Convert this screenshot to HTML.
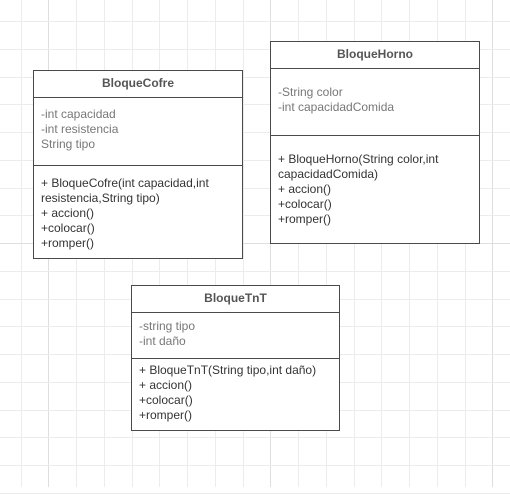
<!DOCTYPE html>
<html><head><meta charset="utf-8"><style>
body{margin:0;width:510px;height:487px;overflow:hidden;background:#fff;font-family:"Liberation Sans",Arial,sans-serif;position:relative}
.g{position:absolute;background:#ececec}
.box{position:absolute;border:1.5px solid #4a4a4a;background:#fff;box-sizing:border-box;font-size:12px;line-height:15px}
.h{font-weight:bold;color:#555;text-align:center;border-bottom:1.5px solid #4a4a4a;box-sizing:border-box}
.a{color:#777;padding:0 7px;border-bottom:1.5px solid #4a4a4a;box-sizing:border-box}
.m{color:#333;padding:0 7px}
</style></head><body>
<div id="grid"></div>
<script>
var s='';
for(var i=0;i<19;i++){var x=20.5+i*27.75;s+='<div class="g" style="left:'+x.toFixed(1)+'px;top:0;width:1px;height:487px'+((i==1||i==9||i==17)?';background:#dedede':'')+'"></div>';}
for(var j=0;j<18;j++){var y=21+j*27.75;s+='<div class="g" style="top:'+y.toFixed(1)+'px;left:0;height:1px;width:510px'+((j==8)?';background:#dedede':'')+'"></div>';}
document.getElementById('grid').innerHTML=s;
</script>
<div class="box" style="left:33px;top:70px;width:210px;height:189px">
<div class="h" style="height:27px;line-height:24px">BloqueCofre</div>
<div class="a" style="height:68px;padding-top:9px">-int capacidad<br>-int resistencia<br>String tipo</div>
<div class="m" style="padding-top:10px">+ BloqueCofre(int capacidad,int resistencia,String tipo)<br>+ accion()<br>+colocar()<br>+romper()</div>
</div>
<div class="box" style="left:270px;top:41px;width:210px;height:203px">
<div class="h" style="height:27px;line-height:24px">BloqueHorno</div>
<div class="a" style="height:67px;padding-top:16px">-String color<br>-int capacidadComida</div>
<div class="m" style="padding-top:16px">+ BloqueHorno(String color,int capacidadComida)<br>+ accion()<br>+colocar()<br>+romper()</div>
</div>
<div class="box" style="left:131px;top:285px;width:209px;height:146px">
<div class="h" style="height:27px;line-height:24px">BloqueTnT</div>
<div class="a" style="height:46px;padding-top:6px">-string tipo<br>-int daño</div>
<div class="m" style="padding-top:4px">+ BloqueTnT(String tipo,int daño)<br>+ accion()<br>+colocar()<br>+romper()</div>
</div>
</body></html>
